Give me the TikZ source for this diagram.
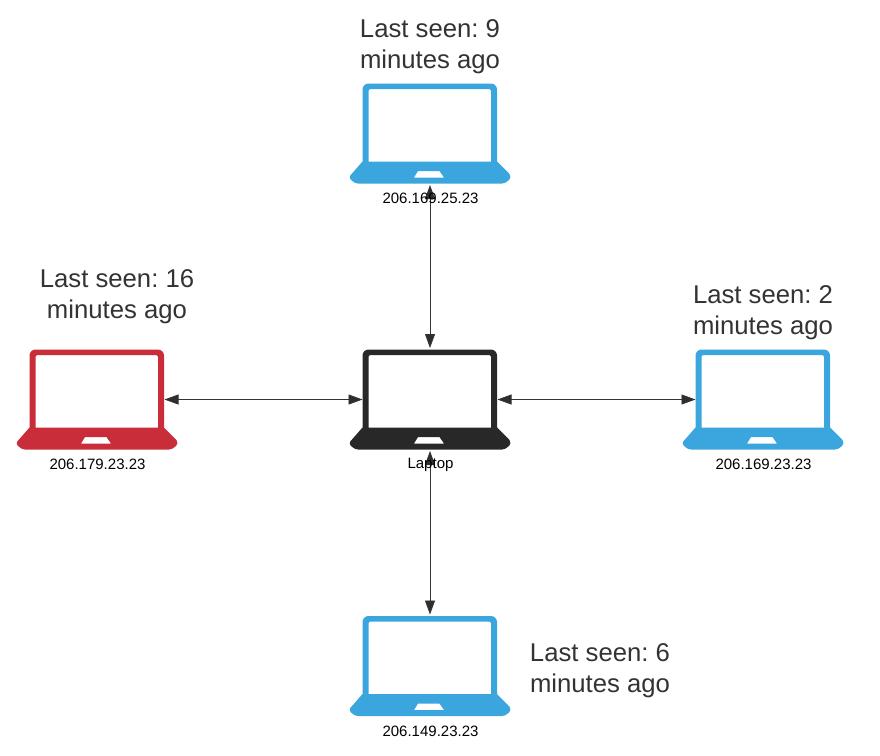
\documentclass[tikz,border=0pt]{standalone}
\usepackage{fontspec}
\setmainfont{Liberation Sans}
\usetikzlibrary{arrows.meta}
\definecolor{lapblue}{HTML}{3AA6DD}
\definecolor{lapred}{HTML}{C92D39}
\definecolor{lapblack}{HTML}{282828}
\definecolor{inkgray}{HTML}{333333}
\tikzset{
  x=1pt,y=-1pt,
  laptopbox/.style={minimum width=135pt,minimum height=103pt,inner sep=0pt,outer sep=0pt},
  iplabel/.style={font=\fontsize{15}{17}\selectfont\frenchspacing,text=black,inner sep=0pt},
  seenlabel/.style={font=\fontsize{25.7}{31}\selectfont\frenchspacing,text=inkgray,inner sep=0pt,align=left},
  seencenter/.style={seenlabel,align=center},
  link/.style={draw=inkgray,line width=0.8pt,{Triangle[length=14pt,width=10pt,fill=inkgray!90!black]}-{Triangle[length=14pt,width=10pt,fill=inkgray!90!black]}},
  pics/laptopicon/.style={code={
    \fill[#1,even odd rule,rounded corners=0pt]
      (-67.5,-43) [rounded corners=6pt] -- (-67.5,-50) -- (67,-50) [rounded corners=0pt] -- (67,28)
      -- (79,40) [rounded corners=3pt] -- (81.5,44) -- (75,50) -- (-75,50) -- (-81.5,44) [rounded corners=0pt] -- (-67.5,28) -- cycle
      (-61.5,28) -- (61,28) -- (61,-43) [rounded corners=2pt] -- (61,-44.5) -- (-61.5,-44.5) [rounded corners=0pt] -- cycle
      (-12,37.5) -- (9.5,37.5) -- (14,44) -- (-16,44) -- cycle;
  }}
}
\begin{document}
\begin{tikzpicture}
\useasboundingbox (0,0) rectangle (880,755);
\fill[white] (0,0) rectangle (880,755);
% icons
\pic at (430,399.5) {laptopicon=lapblack};
\pic at (430,133.5) {laptopicon=lapblue};
\pic at (97,399.5) {laptopicon=lapred};
\pic at (763,399.5) {laptopicon=lapblue};
\pic at (430,666) {laptopicon=lapblue};
% anchors for connectors
\node[laptopbox] (center) at (430,399.5) {};
\node[laptopbox] (top) at (430,133.5) {};
\node[laptopbox] (left) at (97,399.5) {};
\node[laptopbox] (right) at (763,399.5) {};
\node[laptopbox] (bottom) at (430,666) {};
% connectors
\draw[link] (top.south) -- (center.north);
\draw[link] (left.east) -- (center.west);
\draw[link] (center.east) -- (right.west);
\draw[link] (center.south) -- (bottom.north);
% labels
\node[iplabel] (iptop) at (430.5,198) {206.169.25.23};
\node[iplabel] (ipleft) at (97.5,464.5) {206.179.23.23};
\node[iplabel] (lap) at (430.5,464.5) {Laptop};
\node[iplabel] (ipright) at (763.5,464.5) {206.169.23.23};
\node[iplabel] (ipbottom) at (430.5,731) {206.149.23.23};
\node[seencenter] (seentop) at (430,46.5) {Last seen: 9\\minutes ago};
\node[seencenter] (seenleft) at (117,297) {Last seen: 16\\minutes ago};
\node[seencenter] (seenright) at (763,313) {Last seen: 2\\minutes ago};
\node[seencenter] (seenbottom) at (600,671) {Last seen: 6\\minutes ago};
\end{tikzpicture}
\end{document}
